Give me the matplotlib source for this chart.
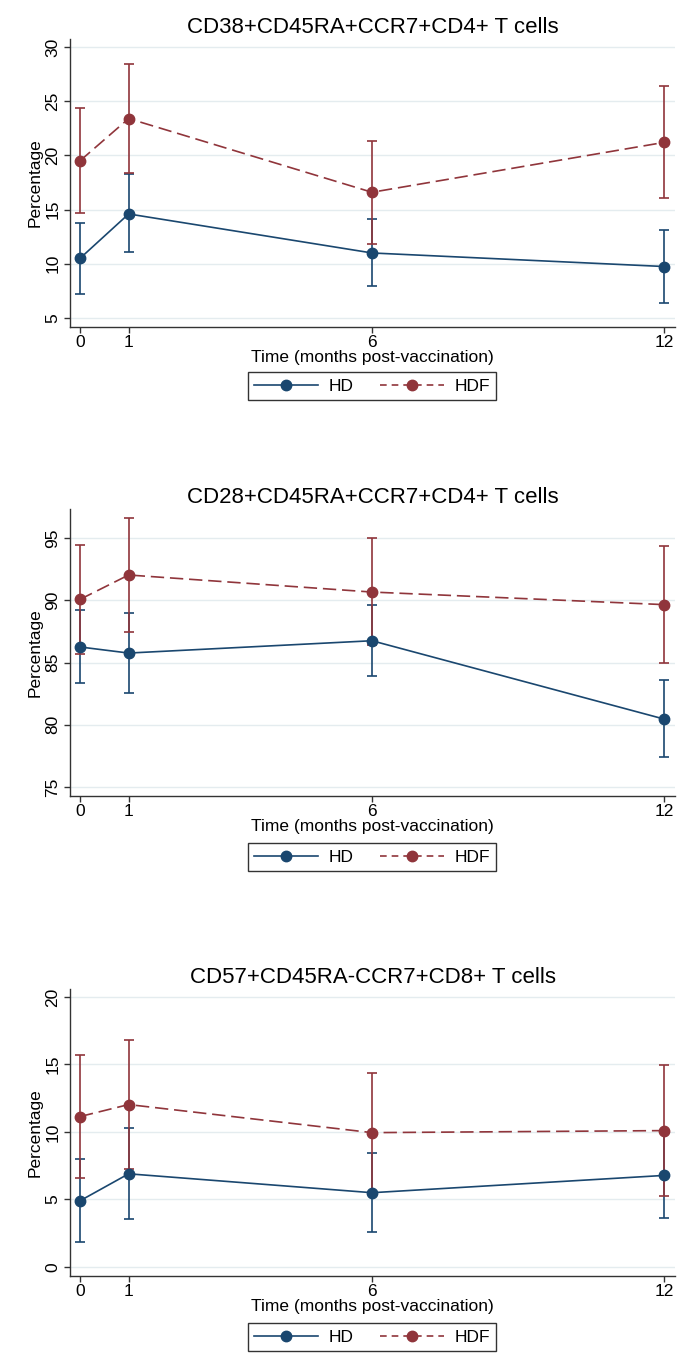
import matplotlib
matplotlib.use("Agg")
import matplotlib.pyplot as plt
from matplotlib.lines import Line2D

plt.rcParams['font.family'] = ['Liberation Sans', 'DejaVu Sans']

# time points (months post-vaccination)
months = [0, 1, 6, 12]
groups = ['HD', 'HDF']

titles = ['CD38+CD45RA+CCR7+CD4+ T cells',
          'CD28+CD45RA+CCR7+CD4+ T cells',
          'CD57+CD45RA-CCR7+CD8+ T cells']

# panel 1
p1_hd_mean = [10.5, 14.6, 11.0, 9.75]
p1_hd_low = [7.26, 11.06, 7.91, 6.36]
p1_hd_high = [13.8, 18.24, 14.16, 13.14]
p1_hdf_mean = [19.5, 23.4, 16.6, 21.2]
p1_hdf_low = [14.68, 18.4, 11.84, 16.08]
p1_hdf_high = [24.37, 28.45, 21.34, 26.38]

# panel 2
p2_hd_mean = [86.25, 85.76, 86.75, 80.46]
p2_hd_low = [83.35, 82.55, 83.92, 77.41]
p2_hd_high = [89.24, 88.98, 89.62, 83.57]
p2_hdf_mean = [90.07, 92.03, 90.66, 89.65]
p2_hdf_low = [85.68, 87.48, 86.41, 84.99]
p2_hdf_high = [94.44, 96.61, 95.0, 94.33]

# panel 3
p3_hd_mean = [4.9, 6.9, 5.5, 6.78]
p3_hd_low = [1.86, 3.56, 2.6, 3.59]
p3_hd_high = [8.0, 10.3, 8.47, 9.97]
p3_hdf_mean = [11.14, 12.03, 9.95, 10.1]
p3_hdf_low = [6.61, 7.28, 5.52, 5.22]
p3_hdf_high = [15.69, 16.81, 14.38, 14.98]

yticks = [[5, 10, 15, 20, 25, 30], [75, 80, 85, 90, 95], [0, 5, 10, 15, 20]]
ylims = [(4.17, 30.74), (74.28, 97.33), (-0.67, 20.59)]

panels = [
    (p1_hd_mean, p1_hd_low, p1_hd_high, p1_hdf_mean, p1_hdf_low, p1_hdf_high),
    (p2_hd_mean, p2_hd_low, p2_hd_high, p2_hdf_mean, p2_hdf_low, p2_hdf_high),
    (p3_hd_mean, p3_hd_low, p3_hd_high, p3_hdf_mean, p3_hdf_low, p3_hdf_high),
]

navy = '#1a476f'
maroon = '#90353b'
grid_col = '#e4ecef'

W, H = 694, 1371
fig = plt.figure(figsize=(W / 100, H / 100), dpi=100)

# pixel boxes: (top, bottom) of plot region, legend centre y
boxes = [(39, 327, 386), (509, 796, 857), (989, 1276, 1337)]
left, right = 70, 675

for i, (top, bottom, leg_y) in enumerate(boxes):
    ax = fig.add_axes([left / W, 1 - bottom / H, (right - left) / W, (bottom - top) / H])
    hd_m, hd_l, hd_h, hdf_m, hdf_l, hdf_h = panels[i]

    ax.set_xlim(-0.205, 12.226)
    ax.set_ylim(*ylims[i])
    ax.set_yticks(yticks[i])
    ax.set_xticks(months)
    for y in yticks[i]:
        ax.axhline(y, color=grid_col, lw=1.0, zorder=0)

    for m, lo, hi, col, ls in [(hd_m, hd_l, hd_h, navy, '-'), (hdf_m, hdf_l, hdf_h, maroon, (0, (8, 3.5)))]:
        yerr = [[a - b for a, b in zip(m, lo)], [c - a for a, c in zip(m, hi)]]
        ax.errorbar(months, m, yerr=yerr, fmt='none', ecolor=col, elinewidth=1.2,
                    capsize=3.5, capthick=1.2, zorder=2)
        ax.plot(months, m, color=col, ls=ls, lw=1.2, marker='o', markersize=7.5,
                markerfacecolor=col, markeredgecolor=col, zorder=3)

    ax.spines['top'].set_visible(False)
    ax.spines['right'].set_visible(False)
    for s in ['left', 'bottom']:
        ax.spines[s].set_color('#333333')
        ax.spines[s].set_linewidth(1.0)
    ax.tick_params(axis='both', colors='#333333', labelsize=12.5, length=4, width=1.0, labelcolor='black')
    ax.tick_params(axis='y', labelrotation=90, pad=3)
    for lab in ax.get_yticklabels():
        lab.set_va('center')
    ax.tick_params(axis='x', pad=2)

    ax.set_ylabel('Percentage', fontsize=12.5, labelpad=2)
    ax.set_xlabel('Time (months post-vaccination)', fontsize=12.5, labelpad=0)
    ax.set_title(titles[i], fontsize=16, pad=4)

    handles = [
        Line2D([], [], color=navy, lw=1.2, marker='o', markersize=7.5),
        Line2D([], [], color=maroon, lw=1.2, ls=(0, (4, 3)), marker='o', markersize=7.5),
    ]
    leg = ax.legend(handles, groups, loc='center', ncol=2, fontsize=12.5,
                    bbox_to_anchor=(372 / W, 1 - leg_y / H), bbox_transform=fig.transFigure,
                    frameon=True, fancybox=False, handlelength=3.7, columnspacing=1.5,
                    handletextpad=0.6, borderpad=0.35, borderaxespad=0)
    leg.get_frame().set_edgecolor('black')
    leg.get_frame().set_linewidth(1.0)

fig.savefig('out.png', dpi=100)
